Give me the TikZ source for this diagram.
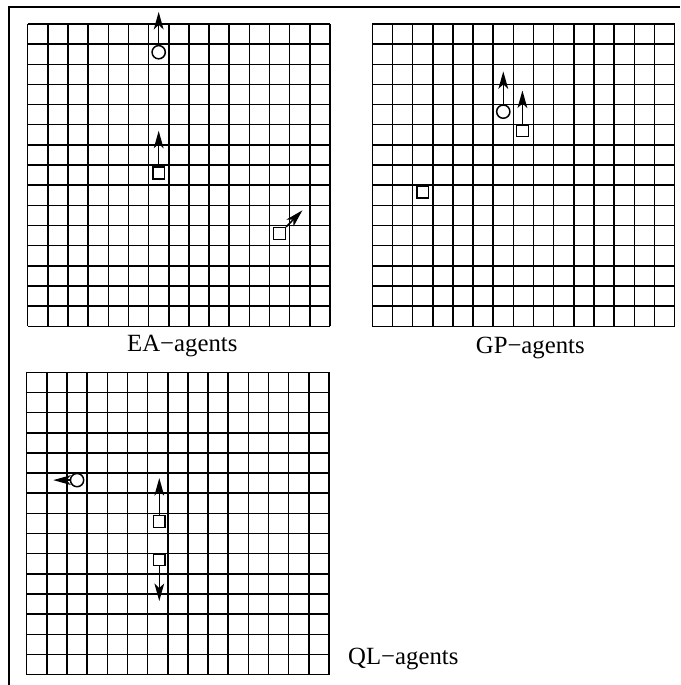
\documentclass[tikz,border=0pt]{standalone}
\usepackage{fontspec}
\setmainfont{Liberation Serif}
\usetikzlibrary{arrows.meta}

\begin{document}
\begin{tikzpicture}[
  x=0.4pt, y=-0.4pt,
  font=\fontsize{9.9}{12}\selectfont,
  frame/.style={line width=0.6pt, black},
  gridline/.style={line width=0.6pt, black},
  agentC/.style={circle, draw, fill=white, line width=0.6pt,
    minimum size=5.3pt, inner sep=0pt},
  agentS/.style={rectangle, draw, fill=white, line width=0.6pt,
    minimum size=4.7pt, inner sep=0pt},
  move/.style={-{Stealth[length=7pt, width=3.9pt, inset=1.8pt]}, line width=0.6pt},
  caption/.style={inner sep=0pt, anchor=base}
]
\useasboundingbox (0,0) rectangle (680,685);

% outer frame (only top and left edges show)
\draw[frame] (9,685) -- (9,7) -- (680,7);

% EA-agents
\begin{scope}[shift={(27.7,24)}, x=8.06pt, y=-8.06pt]
  \foreach \i in {0,...,15} {
    \draw[gridline] (\i,0) -- (\i,15);
    \draw[gridline] (0,\i) -- (15,\i);
  }
  \node[agentC] (eaCircle) at (6.5,1.4) {};
  \node[agentS] (eaSq1) at (6.5,7.4) {};
  \node[agentS] (eaSq2) at (12.5,10.4) {};
  \coordinate (eaCircleTip) at (6.5,-0.6);
  \coordinate (eaSq1Tip) at (6.5,5.3);
  \coordinate (eaSq2Tip) at (13.63,9.25);
  \draw[move] (eaCircle) -- (eaCircleTip);
  \draw[move] (eaSq1) -- (eaSq1Tip);
  \draw[move] (eaSq2) -- (eaSq2Tip);
\end{scope}

% GP-agents
\begin{scope}[shift={(372.3,24)}, x=8.06pt, y=-8.06pt]
  \foreach \i in {0,...,15} {
    \draw[gridline] (\i,0) -- (\i,15);
    \draw[gridline] (0,\i) -- (15,\i);
  }
  \node[agentC] (gpCircle) at (6.5,4.35) {};
  \node[agentS] (gpSq1) at (7.45,5.3) {};
  \node[agentS] (gpSq2) at (2.5,8.35) {};
  \coordinate (gpCircleTip) at (6.5,2.35);
  \coordinate (gpSq1Tip) at (7.45,3.3);
  \draw[move] (gpCircle) -- (gpCircleTip);
  \draw[move] (gpSq1) -- (gpSq1Tip);
\end{scope}

% QL-agents
\begin{scope}[shift={(26.7,372.3)}, x=8.06pt, y=-8.06pt]
  \foreach \i in {0,...,15} {
    \draw[gridline] (\i,0) -- (\i,15);
    \draw[gridline] (0,\i) -- (15,\i);
  }
  \node[agentC] (qlCircle) at (2.5,5.35) {};
  \node[agentS] (qlSq1) at (6.58,7.4) {};
  \node[agentS] (qlSq2) at (6.58,9.3) {};
  \coordinate (qlCircleTip) at (1.32,5.35);
  \coordinate (qlSq1Tip) at (6.58,5.25);
  \coordinate (qlSq2Tip) at (6.58,11.35);
  \draw[move] (qlCircle) -- (qlCircleTip);
  \draw[move] (qlSq1) -- (qlSq1Tip);
  \draw[move] (qlSq2) -- (qlSq2Tip);
\end{scope}

\node[caption] (eaLabel) at (182.3,351.7) {EA−agents};
\node[caption] (gpLabel) at (530.3,353.3) {GP−agents};
\node[caption, anchor=base west] (qlLabel) at (347.7,664.3) {QL−agents};
\end{tikzpicture}
\end{document}
